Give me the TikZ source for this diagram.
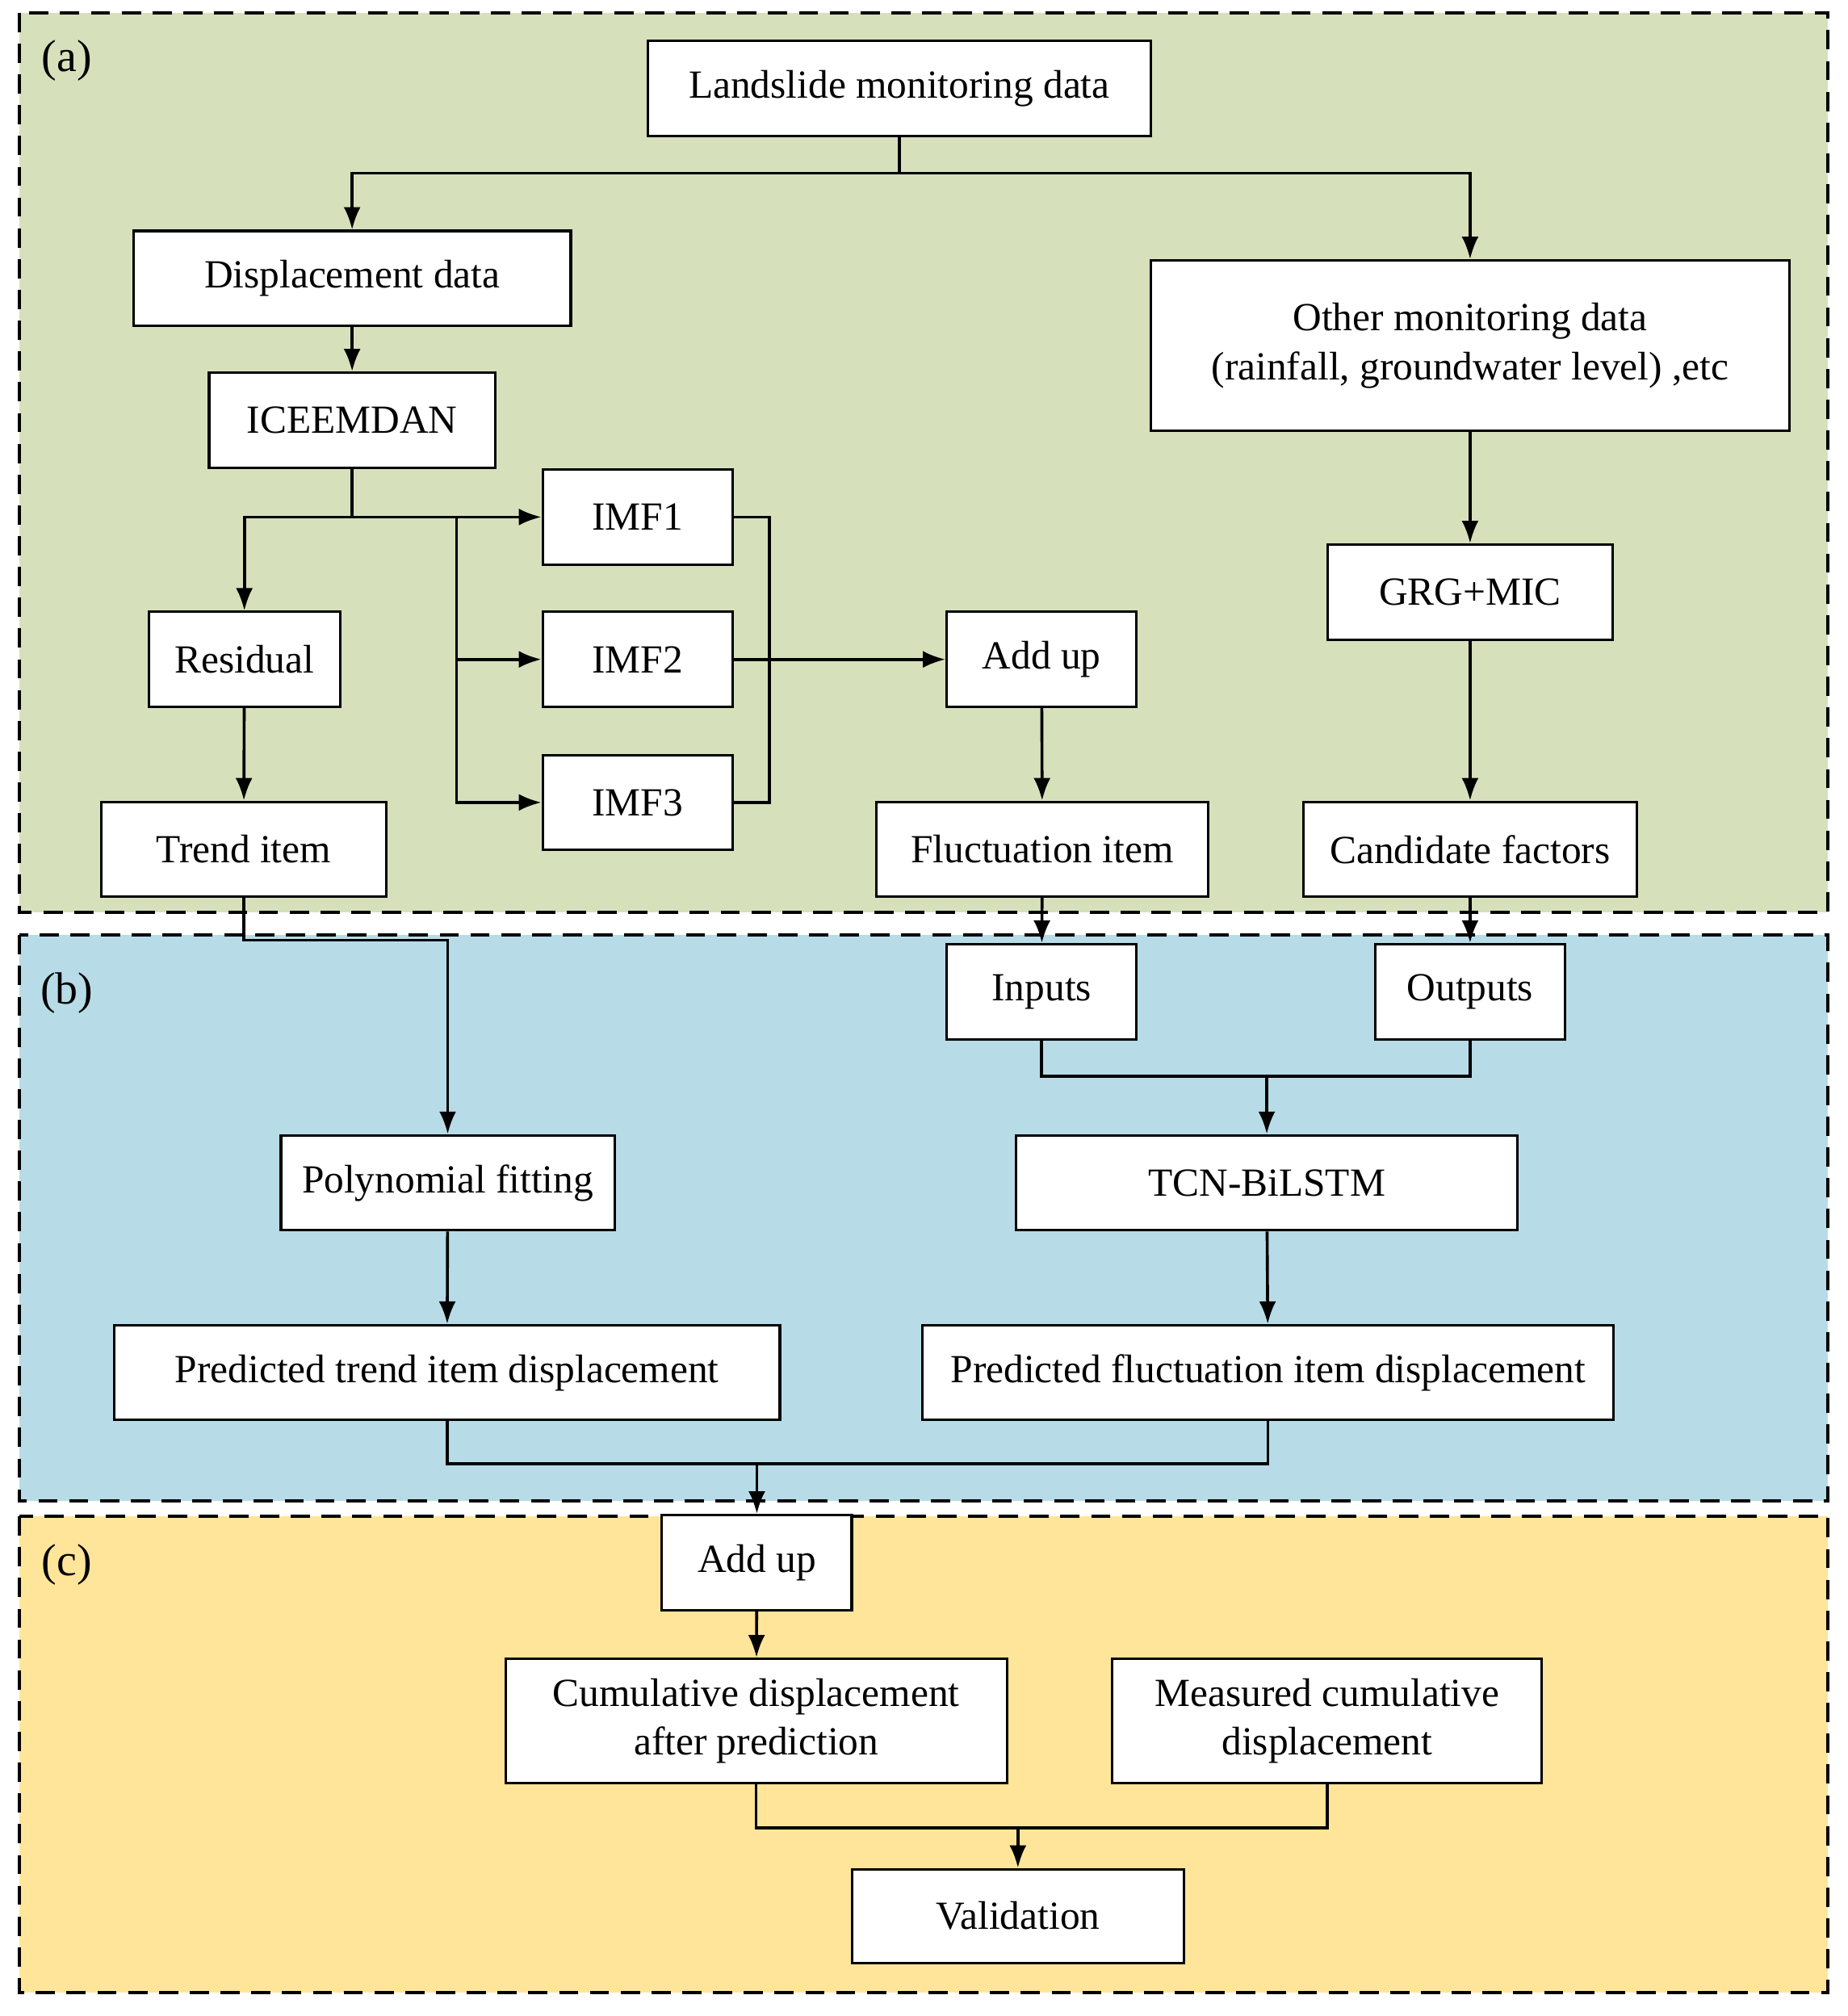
\documentclass[tikz,border=0pt]{standalone}
\usepackage{fontspec}
\setmainfont{Liberation Serif}
\usetikzlibrary{arrows.meta}
\definecolor{panelA}{RGB}{214,225,188}
\definecolor{panelB}{RGB}{183,220,231}
\definecolor{panelC}{RGB}{255,229,153}

\begin{document}
\begin{tikzpicture}[x=0.02cm,y=-0.02cm,
box/.style={draw,fill=white,line width=1.1pt,minimum height=1.48cm,align=center,
inner sep=2pt,font=\fontsize{17.7}{21.6}\selectfont},
panel/.style={draw,line width=1.4pt,dash pattern=on 0.3cm off 0.18cm},
tag/.style={font=\fontsize{20}{24}\selectfont},
>={Latex[length=10pt,width=7.5pt]}]
\useasboundingbox (0,0) rectangle (1440,1571.5);
\draw[panel,fill=panelA] (15,10) rectangle (1425,711);
\draw[panel,fill=panelB] (15,729) rectangle (1425,1170);
\draw[panel,fill=panelC] (15,1182) rectangle (1425,1553);
\node[tag] (ta) at (52,47) {(a)};
\node[tag] (tb) at (52,774) {(b)};
\node[tag] (tc) at (52,1220) {(c)};

\node[box,minimum width=7.84cm] (land) at (701,69) {Landslide monitoring data};
\node[box,minimum width=6.82cm] (disp) at (274.5,217) {Displacement data};
\node[box,minimum width=9.96cm,minimum height=2.66cm] (other) at (1146,269.5)
  {Other monitoring data\\(rainfall, groundwater level) ,etc};
\node[box,minimum width=4.46cm] (icee) at (274.5,327.5) {ICEEMDAN};
\foreach \i/\y in {1/403,2/514,3/625.5}
  \node[box,minimum width=2.96cm] (imf\i) at (497,\y) {IMF\i};
\node[box,minimum width=2.98cm] (resid) at (190.5,514) {Residual};
\node[box,minimum width=4.44cm] (trend) at (190,662) {Trend item};
\node[box,minimum width=2.96cm] (addA) at (812,514) {Add up};
\node[box,minimum width=5.18cm] (fluct) at (812.5,662) {Fluctuation item};
\node[box,minimum width=4.44cm] (grg) at (1146,461.5) {GRG+MIC};
\node[box,minimum width=5.2cm] (cand) at (1146,662) {Candidate factors};
\node[box,minimum width=2.96cm] (inp) at (812,773) {Inputs};
\node[box,minimum width=2.96cm] (outp) at (1146,773) {Outputs};
\node[box,minimum width=5.2cm] (poly) at (349,922) {Polynomial fitting};
\node[box,minimum width=7.82cm] (tcn) at (987.5,922) {TCN-BiLSTM};
\node[box,minimum width=10.38cm] (ptrend) at (348.5,1070) {Predicted trend item displacement};
\node[box,minimum width=10.78cm] (pfluct) at (988.5,1070) {Predicted fluctuation item displacement};
\node[box,minimum width=2.96cm] (addC) at (590,1218) {Add up};
\node[box,minimum width=7.82cm,minimum height=1.94cm] (cum) at (589.5,1341.5)
  {Cumulative displacement\\after prediction};
\node[box,minimum width=6.7cm,minimum height=1.94cm] (meas) at (1034.5,1341.5)
  {Measured cumulative\\displacement};
\node[box,minimum width=5.18cm,minimum height=1.46cm] (valid) at (793.5,1493.5) {Validation};

\begin{scope}[line width=1.3pt]
\draw (land.south) -- ++(0,28) coordinate (s1);
\draw[->] (s1) -| (disp.north);
\draw[->] (s1) -| (other.north);
\draw[->] (disp) -- (icee);
\coordinate (s2) at (icee.south |- imf1.west);
\coordinate (s3) at (356,403);
\draw (icee.south) -- (s2);
\draw[->] (s2) -| (resid.north);
\draw[->] (s2) -- (imf1.west);
\draw[->] (s3) |- (imf2.west);
\draw[->] (s3) |- (imf3.west);
\draw (imf1.east) -- ++(28,0) |- (imf3.east);
\draw[->] (imf2.east) -- (addA.west);
\foreach \a/\b in {resid/trend,addA/fluct,other/grg,grg/cand,fluct/inp,cand/outp,
  poly/ptrend,tcn/pfluct,addC/cum}
  \draw[->] (\a) -- (\b);
\draw[->] (trend.south) -- ++(0,33) -| (poly.north);
\draw (inp.south) -- ++(0,28) coordinate (j1) -| (outp.south);
\draw[->] (j1 -| tcn.north) -- (tcn.north);
\draw (ptrend.south) -- ++(0,33) coordinate (j2) -| (pfluct.south);
\draw[->] (j2 -| addC.north) -- (addC.north);
\draw (cum.south) -- ++(0,34) coordinate (j3) -| (meas.south);
\draw[->] (j3 -| valid.north) -- (valid.north);
\end{scope}
\end{tikzpicture}
\end{document}
